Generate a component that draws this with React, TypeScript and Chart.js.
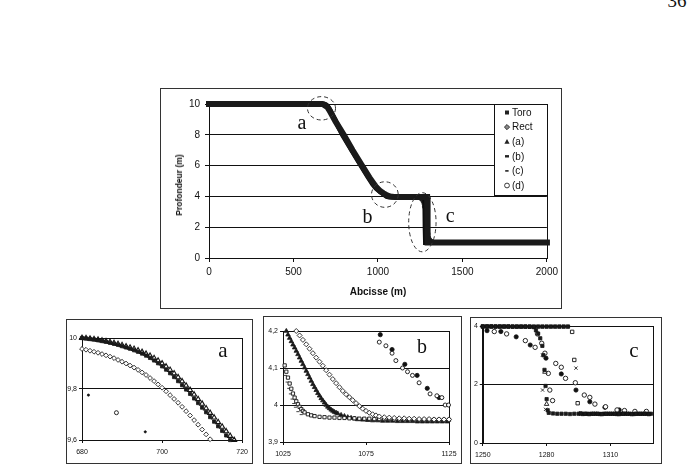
import { useEffect, useRef } from 'react';
import { Chart, registerables } from 'chart.js';

Chart.register(...registerables);

const SANS = "'Liberation Sans', Arial, sans-serif";
const SERIF = "'Liberation Serif', 'Times New Roman', serif";
const INK = '#111';

// ---------- Overall depth profile (Abcisse m / Profondeur m) ----------
const profileToroX = [0, 200, 400, 600, 680, 690, 700, 710, 717, 750, 790, 850, 900, 940, 970, 990, 1010, 1027, 1038, 1051, 1066, 1100, 1200, 1277, 1278.5, 1279.5, 1280.5, 1283, 1500, 1750, 2000];
const profileToroDepth = [10, 10, 10, 10, 10, 9.968, 9.889, 9.727, 9.6, 8.88, 8.0, 6.9, 6.0, 5.28, 4.78, 4.52, 4.33, 4.2, 4.1, 4.0, 3.968, 3.961, 3.96, 3.96, 3.0, 2.0, 1.15, 1.0, 1.0, 1.0, 1.0];
const profileRectX = [0, 200, 400, 600, 670, 680, 700, 712, 750, 800, 850, 900, 950, 990, 1015, 1033, 1050, 1066, 1082, 1100, 1200, 1291, 1292, 1293, 1294.6, 1296, 1500, 1750, 2000];
const profileRectDepth = [10, 10, 10, 10, 10, 9.957, 9.805, 9.6, 8.85, 7.95, 7.0, 6.1, 5.22, 4.6, 4.33, 4.2, 4.1, 4.017, 3.97, 3.963, 3.96, 3.96, 3.8, 2.84, 1.36, 1.0, 1.0, 1.0, 1.0];
const mainXTicks = [0, 500, 1000, 1500, 2000];
const mainYTicks = [0, 2, 4, 6, 8, 10];
const legendNames = ['Toro', 'Rect', '(a)', '(b)', '(c)', '(d)'];

// ---------- Detail a : top of the slope ----------
const zoomAX = [680, 681, 682, 683, 684, 685, 686, 687, 688, 689, 690, 691, 692, 693, 694, 695, 696, 697, 698, 699, 700, 701, 702, 703, 704, 705, 706, 707, 708, 709, 710, 711, 712, 713, 714, 715, 716, 717, 718];
const zoomAToro = [10.0, 9.998, 9.996, 9.994, 9.991, 9.988, 9.985, 9.981, 9.977, 9.973, 9.968, 9.963, 9.958, 9.952, 9.946, 9.939, 9.931, 9.922, 9.912, 9.901, 9.889, 9.876, 9.862, 9.847, 9.831, 9.815, 9.798, 9.781, 9.763, 9.745, 9.727, 9.709, 9.69, 9.672, 9.654, 9.636, 9.618, 9.6];
const zoomATri = [10.0, 9.999, 9.997, 9.995, 9.993, 9.99, 9.987, 9.984, 9.98, 9.976, 9.972, 9.967, 9.962, 9.957, 9.951, 9.945, 9.938, 9.93, 9.921, 9.911, 9.9, 9.888, 9.875, 9.861, 9.846, 9.83, 9.813, 9.796, 9.778, 9.76, 9.742, 9.724, 9.706, 9.688, 9.67, 9.652, 9.634, 9.616, 9.6];
const zoomARectX = [680, 681, 682, 683, 684, 685, 686, 687, 688, 689, 690, 691, 692, 693, 694, 695, 696, 697, 698, 699, 700, 701, 702, 703, 704, 705, 706, 707, 708, 709, 710, 711, 712];
const zoomARect = [9.957, 9.954, 9.95, 9.946, 9.942, 9.937, 9.932, 9.927, 9.921, 9.914, 9.907, 9.9, 9.892, 9.884, 9.875, 9.865, 9.855, 9.843, 9.831, 9.818, 9.805, 9.791, 9.776, 9.761, 9.746, 9.73, 9.713, 9.696, 9.678, 9.66, 9.641, 9.622, 9.603];
const zoomABX = [681.6];
const zoomABY = [9.776];
const zoomACX = [695.8];
const zoomACY = [9.632];
const zoomADX = [688.6];
const zoomADY = [9.707];
const aXTicks = [680, 700, 720];
const aYTicks = [9.6, 9.8, 10];

// ---------- Detail b : foot of the slope ----------
const zoomBToroX = [1026, 1027, 1028, 1029, 1030, 1031, 1032, 1033, 1034, 1035, 1036, 1037, 1038, 1040, 1042, 1044, 1047, 1050, 1053, 1056, 1059, 1062, 1065, 1068, 1071, 1074, 1077, 1080, 1083, 1086, 1089, 1092, 1095, 1098, 1101, 1104, 1107, 1110, 1113, 1116, 1119, 1122, 1125];
const zoomBToro = [4.107, 4.09, 4.074, 4.058, 4.044, 4.031, 4.02, 4.01, 4.002, 3.995, 3.989, 3.984, 3.98, 3.975, 3.972, 3.97, 3.968, 3.967, 3.966, 3.966, 3.965, 3.965, 3.964, 3.964, 3.963, 3.963, 3.963, 3.962, 3.962, 3.962, 3.962, 3.961, 3.961, 3.961, 3.961, 3.96, 3.96, 3.96, 3.96, 3.96, 3.96, 3.96, 3.96];
const zoomBBX = [1026.5, 1027.5, 1028.5, 1029.5, 1030.5, 1031.5, 1032.5, 1034, 1036];
const zoomBBY = [4.08, 4.062, 4.045, 4.03, 4.016, 4.004, 3.994, 3.982, 3.974];
const zoomBTriX = [1027, 1028, 1029, 1030, 1031, 1032, 1033, 1034, 1035, 1036, 1037, 1038, 1039, 1040, 1041, 1042, 1043, 1044, 1045, 1046, 1047, 1048, 1049, 1050, 1051, 1052, 1053, 1054, 1055, 1056, 1057, 1058, 1060, 1062, 1064, 1066, 1068, 1070, 1073, 1076, 1079, 1082, 1085, 1088, 1091, 1094, 1097, 1100, 1103, 1106, 1109, 1112, 1115, 1118, 1121, 1124];
const zoomBTri = [4.2, 4.19, 4.181, 4.172, 4.163, 4.155, 4.146, 4.137, 4.128, 4.119, 4.11, 4.101, 4.092, 4.083, 4.074, 4.065, 4.056, 4.048, 4.04, 4.032, 4.025, 4.018, 4.012, 4.006, 4.0, 3.995, 3.991, 3.987, 3.984, 3.981, 3.979, 3.977, 3.973, 3.97, 3.967, 3.965, 3.963, 3.961, 3.96, 3.959, 3.958, 3.958, 3.957, 3.957, 3.957, 3.956, 3.956, 3.956, 3.956, 3.955, 3.955, 3.955, 3.955, 3.955, 3.955, 3.955];
const zoomBRectX = [1033, 1035, 1037, 1039, 1041, 1043, 1045, 1047, 1049, 1051, 1053, 1055, 1057, 1059, 1061, 1063, 1065, 1067, 1069, 1071, 1073, 1075, 1077, 1079, 1081, 1083, 1086, 1089, 1092, 1095, 1098, 1101, 1104, 1107, 1110, 1113, 1116, 1119, 1122, 1125];
const zoomBRect = [4.2, 4.188, 4.176, 4.164, 4.152, 4.14, 4.128, 4.117, 4.106, 4.094, 4.082, 4.07, 4.059, 4.048, 4.038, 4.029, 4.021, 4.013, 4.005, 3.997, 3.99, 3.984, 3.979, 3.975, 3.972, 3.969, 3.967, 3.966, 3.965, 3.964, 3.964, 3.963, 3.963, 3.962, 3.962, 3.962, 3.961, 3.961, 3.961, 3.961];
const zoomBCX = [1083.6, 1090.7, 1098.4, 1105.8, 1111.9, 1119];
const zoomBCY = [4.19, 4.15, 4.11, 4.08, 4.045, 4.02];
const zoomBDX = [1083, 1087, 1090.7, 1093, 1097, 1100, 1103, 1107, 1113.6, 1117.7, 1120.7, 1122.7, 1124.7];
const zoomBDY = [4.17, 4.16, 4.14, 4.12, 4.1, 4.09, 4.08, 4.06, 4.03, 4.025, 4.02, 4.0, 4.0];
const bXTicks = [1025, 1075, 1125];
const bYTicks = [3.9, 4, 4.1, 4.2];

// ---------- Detail c : the step ----------
const zoomCToroX = [1250, 1252, 1254, 1256, 1258, 1260, 1262, 1264, 1266, 1268, 1270, 1272, 1274, 1275, 1276, 1277, 1278, 1278.5, 1279, 1279.5, 1280, 1280.5, 1281, 1283, 1285, 1287, 1289, 1291, 1293, 1295, 1297, 1299, 1301, 1303, 1305, 1307, 1309, 1311, 1313, 1315, 1317, 1319, 1321, 1323, 1325, 1327, 1329];
const zoomCToro = [3.99, 3.99, 3.99, 3.985, 3.985, 3.985, 3.985, 3.98, 3.98, 3.98, 3.98, 3.975, 3.96, 3.85, 3.74, 3.58, 3.32, 3.0, 2.5, 1.95, 1.5, 1.12, 1.03, 1.01, 1.0, 1.0, 1.0, 0.99, 1.0, 1.0, 0.99, 1.0, 1.0, 1.0, 0.99, 1.0, 1.0, 1.0, 0.99, 1.0, 1.0, 1.0, 0.99, 1.0, 1.0, 1.0, 1.0];
const zoomCRectX = [1250, 1252, 1254, 1256, 1258, 1260, 1262, 1264, 1266, 1268, 1270, 1272, 1274, 1276, 1278, 1280, 1282, 1284, 1286, 1288, 1290, 1292, 1293, 1294.6, 1296, 1298, 1300, 1302, 1304, 1306, 1308, 1310, 1312, 1314, 1316, 1318, 1320, 1322, 1324, 1326, 1328];
const zoomCRect = [3.98, 3.98, 3.98, 3.98, 3.98, 3.98, 3.98, 3.98, 3.98, 3.98, 3.98, 3.98, 3.98, 3.98, 3.98, 3.98, 3.98, 3.98, 3.98, 3.98, 3.98, 3.8, 2.84, 1.36, 1.01, 1.0, 0.99, 1.0, 1.0, 0.99, 1.0, 1.0, 1.0, 0.99, 1.0, 1.0, 0.99, 1.0, 1.0, 1.0, 0.99];
const zoomCTriX = [1279.2, 1280.0];
const zoomCTriY = [2.43, 1.33];
const zoomCBX = [1278.1, 1278.1, 1279.5, 1293.8];
const zoomCBY = [3.01, 1.81, 1.15, 2.56];
const zoomCCX = [1252, 1258.5, 1265.7, 1272.3, 1279.7, 1286.9, 1293.8, 1300.3, 1307.4, 1314.1];
const zoomCCY = [3.84, 3.81, 3.63, 3.35, 2.9, 2.36, 1.81, 1.41, 1.22, 1.13];
const zoomCDX = [1255.4, 1261.2, 1270, 1274.6, 1275.7, 1277.7, 1279.2, 1280.8, 1281.5, 1282.8, 1284.3, 1286.9, 1288.9, 1293.5, 1297.7, 1300.3, 1302.7, 1307.7, 1313.1, 1316.6, 1321.5, 1326.9];
const zoomCDY = [3.81, 3.73, 3.5, 3.27, 3.73, 3.41, 3.07, 2.38, 1.81, 1.45, 2.72, 2.59, 2.21, 2.06, 1.64, 1.56, 1.33, 1.24, 1.13, 1.11, 1.08, 1.08];
const cXTicks = [1250, 1280, 1310];
const cYTicks = [0, 2, 4];

// Dashed rings and tags marking the three detail zones on the overview
const focusRings = [
  { x: 666, y: 9.72, rx: 83, ry: 0.76 },
  { x: 1041, y: 4.12, rx: 79, ry: 0.83 },
  { x: 1263, y: 2.32, rx: 81, ry: 1.92 },
];
const focusTags = [
  { text: 'a', x: 550, y: 8.36 },
  { text: 'b', x: 938, y: 2.29 },
  { text: 'c', x: 1428, y: 2.36 },
];

type Box = { left: number; top: number; width: number; height: number };
type Area = { left: number; top: number; right: number; bottom: number };
type AxisSpec = { min: number; max: number; ticks: number[]; fmt: (v: number) => string };

const pts = (xs: number[], ys: number[]) =>
  xs.slice(0, Math.min(xs.length, ys.length)).map((x, i) => ({ x, y: ys[i] }));

const plain = (v: number) => String(Math.round(v));
const decimalComma = (v: number) => {
  const r = Math.round(v * 10) / 10;
  return Number.isInteger(r) ? String(r) : r.toFixed(1).replace('.', ',');
};

const plotFrame = {
  id: 'plotFrame',
  beforeDatasetsDraw(chart: any) {
    const { ctx, chartArea: a } = chart;
    ctx.save();
    ctx.strokeStyle = INK;
    ctx.lineWidth = 1;
    const l = Math.round(a.left) + 0.5;
    const t = Math.round(a.top) + 0.5;
    ctx.strokeRect(l, t, Math.round(a.right) - Math.round(a.left), Math.round(a.bottom) - Math.round(a.top));
    ctx.restore();
  },
};

function makeOptions(box: Box, area: Area, xs: AxisSpec, ys: AxisSpec, fontSize: number, tickLen: number, xPad: number, yPad: number) {
  const font = { family: SANS, size: fontSize };
  return {
    responsive: false,
    animation: false as const,
    events: [] as any[],
    layout: {
      autoPadding: false,
      padding: { left: 0, top: area.top - box.top, right: box.left + box.width - area.right, bottom: 0 },
    },
    plugins: { legend: { display: false }, tooltip: { enabled: false } },
    scales: {
      x: {
        type: 'linear',
        min: xs.min,
        max: xs.max,
        afterFit: (s: any) => { s.height = box.top + box.height - area.bottom; },
        afterBuildTicks: (s: any) => { s.ticks = xs.ticks.map((value) => ({ value })); },
        border: { display: true, color: INK, width: 1 },
        grid: { display: true, drawOnChartArea: false, drawTicks: true, tickLength: tickLen, color: INK },
        ticks: { autoSkip: false, maxRotation: 0, padding: xPad, color: INK, font, callback: (v: any) => xs.fmt(Number(v)) },
      },
      y: {
        type: 'linear',
        min: ys.min,
        max: ys.max,
        afterFit: (s: any) => { s.width = area.left - box.left; },
        afterBuildTicks: (s: any) => { s.ticks = ys.ticks.map((value) => ({ value })); },
        border: { display: true, color: INK, width: 1 },
        grid: { display: true, drawOnChartArea: true, drawTicks: true, tickLength: tickLen, color: INK, lineWidth: 1 },
        ticks: { autoSkip: false, padding: yPad, color: INK, font, callback: (v: any) => ys.fmt(Number(v)) },
      },
    },
  };
}

function drawLegendMark(ctx: CanvasRenderingContext2D, name: string, x: number, y: number) {
  ctx.save();
  ctx.fillStyle = '#222';
  ctx.strokeStyle = '#222';
  ctx.lineWidth = 0.9;
  if (name === 'Toro') {
    ctx.fillRect(x - 2, y - 2, 4, 4);
  } else if (name === 'Rect') {
    ctx.beginPath();
    ctx.moveTo(x, y - 2.6); ctx.lineTo(x + 2.6, y); ctx.lineTo(x, y + 2.6); ctx.lineTo(x - 2.6, y); ctx.closePath();
    ctx.fillStyle = '#888';
    ctx.fill(); ctx.stroke();
  } else if (name === '(a)') {
    ctx.beginPath();
    ctx.moveTo(x, y - 2.6); ctx.lineTo(x + 2.6, y + 2); ctx.lineTo(x - 2.6, y + 2); ctx.closePath();
    ctx.fill();
  } else if (name === '(b)') {
    ctx.fillRect(x - 2, y - 1.2, 4, 2.4);
  } else if (name === '(c)') {
    ctx.fillRect(x - 1.8, y - 0.8, 3.4, 1.6);
  } else {
    ctx.beginPath();
    ctx.arc(x, y, 2.4, 0, Math.PI * 2);
    ctx.stroke();
  }
  ctx.restore();
}

const overviewDecor = {
  id: 'overviewDecor',
  afterDatasetsDraw(chart: any) {
    const { ctx, chartArea: a, scales } = chart;
    const xs = scales.x;
    const ys = scales.y;
    ctx.save();
    // dashed rings
    ctx.strokeStyle = '#333';
    ctx.lineWidth = 1;
    ctx.setLineDash([4, 3]);
    focusRings.forEach((r) => {
      const cx = xs.getPixelForValue(r.x);
      const cy = ys.getPixelForValue(r.y);
      const rx = Math.abs(xs.getPixelForValue(r.x + r.rx) - cx);
      const ry = Math.abs(ys.getPixelForValue(r.y + r.ry) - cy);
      ctx.beginPath();
      ctx.ellipse(cx, cy, rx, ry, 0, 0, Math.PI * 2);
      ctx.stroke();
    });
    ctx.setLineDash([]);
    ctx.fillStyle = '#111';
    ctx.font = `20px ${SERIF}`;
    ctx.textAlign = 'center';
    ctx.textBaseline = 'alphabetic';
    focusTags.forEach((t) => ctx.fillText(t.text, xs.getPixelForValue(t.x), ys.getPixelForValue(t.y)));

    // legend box inside the plot area, top right
    const w = 53;
    const h = 91;
    const x0 = Math.round(a.right) - w;
    const y0 = Math.round(a.top);
    ctx.fillStyle = '#fff';
    ctx.fillRect(x0, y0, w, h);
    ctx.strokeStyle = INK;
    ctx.strokeRect(x0 + 0.5, y0 + 0.5, w, h);
    ctx.font = `10px ${SANS}`;
    ctx.textAlign = 'left';
    ctx.textBaseline = 'middle';
    ctx.fillStyle = '#111';
    legendNames.forEach((name, i) => {
      const cy = y0 + 8.5 + i * 14.6;
      drawLegendMark(ctx, name, x0 + 13, cy);
      ctx.fillText(name, x0 + 18, cy + 0.5);
    });
    ctx.restore();
  },
};

const mainBox: Box = { left: 160, top: 88, width: 402, height: 221 };
const mainArea: Area = { left: 209, top: 104, right: 549, bottom: 258 };
const aBox: Box = { left: 66, top: 319, width: 187, height: 145 };
const aArea: Area = { left: 82, top: 338, right: 245, bottom: 440 };
const bBox: Box = { left: 263, top: 316, width: 199, height: 148 };
const bArea: Area = { left: 283, top: 331, right: 449, bottom: 442 };
const cBox: Box = { left: 470, top: 317, width: 192, height: 147 };
const cArea: Area = { left: 480, top: 326, right: 653, bottom: 443 };

const open = (style: string, r: number, color = '#111') => ({
  pointStyle: style, pointRadius: r, pointBackgroundColor: '#fff', pointBorderColor: color, pointBorderWidth: 0.9, clip: false as const,
});
const solid = (style: string, r: number, color = '#111') => ({
  pointStyle: style, pointRadius: r, pointBackgroundColor: color, pointBorderColor: color, pointBorderWidth: 0.8, clip: false as const,
});

function overviewConfig() {
  return {
    type: 'scatter',
    data: {
      datasets: [
        { label: 'Rect', data: pts(profileRectX, profileRectDepth), showLine: true, borderColor: '#1a1a1a', borderWidth: 6, pointRadius: 0, borderCapStyle: 'square', clip: 6 },
        { label: 'Toro', data: pts(profileToroX, profileToroDepth), showLine: true, borderColor: '#0d0d0d', borderWidth: 5, pointRadius: 0, borderCapStyle: 'square', clip: 6 },
        { label: '(c)', data: pts(zoomCCX, zoomCCY), ...solid('circle', 1.5, '#222') },
        { label: '(d)', data: pts(zoomCDX, zoomCDY), ...solid('circle', 1.5, '#333') },
      ],
    },
    options: makeOptions(mainBox, mainArea, { min: 0, max: 2000, ticks: mainXTicks, fmt: plain }, { min: 0, max: 10, ticks: mainYTicks, fmt: plain }, 10, 4, 4, 5),
    plugins: [plotFrame, overviewDecor],
  };
}

function detailAConfig() {
  return {
    type: 'scatter',
    data: {
      datasets: [
        { label: 'Rect', data: pts(zoomARectX, zoomARect), ...open('rectRot', 2.4, '#222') },
        { label: 'Toro', data: pts(zoomAX, zoomAToro), ...solid('rect', 2.3, '#1a1a1a') },
        { label: '(a)', data: pts(zoomAX, zoomATri), ...open('triangle', 2.9, '#111'), pointBackgroundColor: 'rgba(0,0,0,0)', pointBorderWidth: 1.1 },
        { label: '(b)', data: pts(zoomABX, zoomABY), ...solid('circle', 1.1) },
        { label: '(c)', data: pts(zoomACX, zoomACY), ...solid('circle', 1.1) },
        { label: '(d)', data: pts(zoomADX, zoomADY), ...open('circle', 2) },
      ],
    },
    options: makeOptions(aBox, aArea, { min: 680, max: 720, ticks: aXTicks, fmt: plain }, { min: 9.6, max: 10, ticks: aYTicks, fmt: decimalComma }, 7, 3, 5, 2),
    plugins: [plotFrame],
  };
}

function detailBConfig() {
  return {
    type: 'scatter',
    data: {
      datasets: [
        { label: 'Rect', data: pts(zoomBRectX, zoomBRect), ...open('rectRot', 2.5, '#222') },
        { label: 'Toro', data: pts(zoomBToroX, zoomBToro), ...open('rect', 2.3) },
        { label: '(b)', data: pts(zoomBBX, zoomBBY), pointStyle: 'line', pointRadius: 1.6, pointBorderColor: '#444', pointBorderWidth: 1, clip: false },
        { label: '(a)', data: pts(zoomBTriX, zoomBTri), ...solid('triangle', 2.6, '#1a1a1a') },
        { label: '(d)', data: pts(zoomBDX, zoomBDY), ...open('circle', 2) },
        { label: '(c)', data: pts(zoomBCX, zoomBCY), ...solid('circle', 2.1) },
      ],
    },
    options: makeOptions(bBox, bArea, { min: 1025, max: 1125, ticks: bXTicks, fmt: plain }, { min: 3.9, max: 4.2, ticks: bYTicks, fmt: decimalComma }, 7, 3, 5, 2),
    plugins: [plotFrame],
  };
}

function detailCConfig() {
  return {
    type: 'scatter',
    data: {
      datasets: [
        {
          label: 'Rect', data: pts(zoomCRectX, zoomCRect), ...open('rect', 2.4),
          // squares on the plateaus merge into a solid band, the isolated ones in the drop stay hollow
          pointBackgroundColor: (c: any) => (c.raw && (c.raw.y > 3.9 || c.raw.y < 1.1) ? '#1a1a1a' : '#fff'),
        },
        { label: 'Toro', data: pts(zoomCToroX, zoomCToro), ...solid('rect', 2.3, '#1a1a1a') },
        { label: '(a)', data: pts(zoomCTriX, zoomCTriY), ...open('triangle', 2.6) },
        { label: '(b)', data: pts(zoomCBX, zoomCBY), pointStyle: 'crossRot', pointRadius: 2.3, pointBorderColor: '#222', pointBorderWidth: 0.9, clip: false },
        { label: '(d)', data: pts(zoomCDX, zoomCDY), ...open('circle', 2.2) },
        { label: '(c)', data: pts(zoomCCX, zoomCCY), ...solid('circle', 2.1) },
      ],
    },
    options: makeOptions(cBox, cArea, { min: 1250, max: 1330, ticks: cXTicks, fmt: plain }, { min: 0, max: 4, ticks: cYTicks, fmt: plain }, 7, 3, 5, 2),
    plugins: [plotFrame],
  };
}

function ChartCanvas({ box, make }: { box: Box; make: () => any }) {
  const ref = useRef<HTMLCanvasElement | null>(null);
  useEffect(() => {
    if (!ref.current) return;
    const chart = new Chart(ref.current, make());
    return () => chart.destroy();
  }, []);
  return (
    <canvas
      ref={ref}
      width={box.width}
      height={box.height}
      style={{ position: 'absolute', left: box.left, top: box.top, width: box.width, height: box.height }}
    />
  );
}

function Frame({ box }: { box: Box }) {
  return (
    <div
      style={{
        position: 'absolute', left: box.left, top: box.top, width: box.width, height: box.height,
        border: '1px solid #333', boxSizing: 'border-box',
      }}
    />
  );
}

// Serif letter placed by its baseline
function Tag({ text, x, baseline, size }: { text: string; x: number; baseline: number; size: number }) {
  return (
    <div
      style={{
        position: 'absolute', left: x, top: baseline - 0.8375 * size, transform: 'translateX(-50%)',
        fontFamily: SERIF, fontSize: size, lineHeight: 1, color: '#111', whiteSpace: 'nowrap',
      }}
    >
      {text}
    </div>
  );
}

export default function App() {
  return (
    <div style={{ position: 'fixed', left: 0, top: 0, width: 699, height: 474, background: '#fff', overflow: 'hidden' }}>
      <Tag text="36" x={677} baseline={7} size={19} />

      <Frame box={mainBox} />
      <Frame box={aBox} />
      <Frame box={bBox} />
      <Frame box={cBox} />

      <ChartCanvas box={mainBox} make={overviewConfig} />
      <ChartCanvas box={aBox} make={detailAConfig} />
      <ChartCanvas box={bBox} make={detailBConfig} />
      <ChartCanvas box={cBox} make={detailCConfig} />

      <div
        style={{
          position: 'absolute', left: 179, top: 185, transform: 'translate(-50%, -50%) rotate(-90deg)',
          fontFamily: SANS, fontWeight: 'bold', fontSize: 8.5, color: '#111', whiteSpace: 'nowrap',
        }}
      >
        Profondeur (m)
      </div>
      <div
        style={{
          position: 'absolute', left: 378, top: 291, transform: 'translate(-50%, -50%)',
          fontFamily: SANS, fontWeight: 'bold', fontSize: 10, color: '#111', whiteSpace: 'nowrap',
        }}
      >
        Abcisse (m)
      </div>

      <Tag text="a" x={223} baseline={358} size={21} />
      <Tag text="b" x={422} baseline={352.5} size={20} />
      <Tag text="c" x={634} baseline={358} size={21} />
    </div>
  );
}
